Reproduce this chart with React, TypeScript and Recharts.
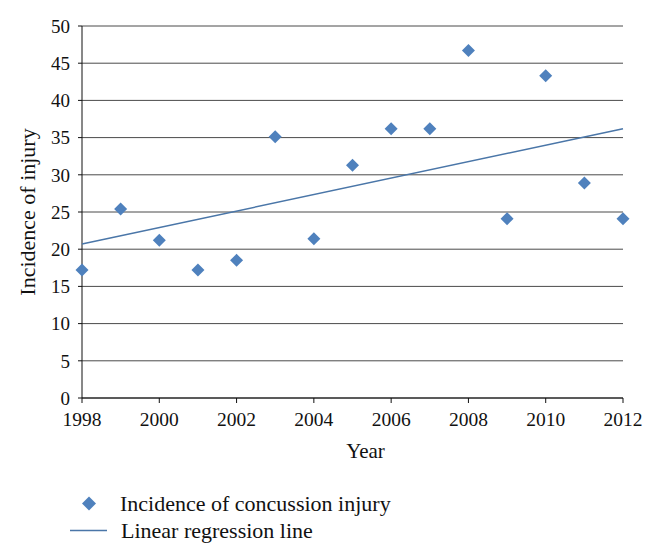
import React from "react";
import {
  ScatterChart,
  Scatter,
  XAxis,
  YAxis,
  CartesianGrid,
  Legend,
} from "recharts";

const years = [1998, 1999, 2000, 2001, 2002, 2003, 2004, 2005, 2006, 2007, 2008, 2009, 2010, 2011, 2012];
const incidence = [17.2, 25.4, 21.2, 17.2, 18.5, 35.1, 21.4, 31.3, 36.2, 36.2, 46.7, 24.1, 43.3, 28.9, 24.1];
const regressionYears = [1998, 2012];
const regressionValues = [20.7, 36.2];
const xTicks = [1998, 2000, 2002, 2004, 2006, 2008, 2010, 2012];
const yTicks = [0, 5, 10, 15, 20, 25, 30, 35, 40, 45, 50];

const pointData = years.map((y, i) => ({ year: y, value: incidence[i] }));
const lineData = regressionYears.map((y, i) => ({ year: y, value: regressionValues[i] }));

const FONT = "'Liberation Serif', 'Times New Roman', serif";
const BLUE = "#4F81BD";
const LINE_BLUE = "#4A76A8";

const Diamond = (props: any) => {
  const { cx, cy } = props;
  if (cx == null || cy == null) return null;
  const r = 6.5;
  return (
    <polygon
      points={`${cx},${cy - r} ${cx + r},${cy} ${cx},${cy + r} ${cx - r},${cy}`}
      fill={BLUE}
    />
  );
};

const NoShape = () => null;

const LegendContent = () => (
  <div style={{ fontFamily: FONT, fontSize: 22, color: "#111", lineHeight: "27px" }}>
    <div style={{ display: "flex", alignItems: "center" }}>
      <svg width={50} height={27} style={{ flex: "none" }}>
        <polygon points="19,6.5 26,13.5 19,20.5 12,13.5" fill={BLUE} />
      </svg>
      <span style={{ whiteSpace: "nowrap" }}>Incidence of concussion injury</span>
    </div>
    <div style={{ display: "flex", alignItems: "center" }}>
      <svg width={51} height={27} style={{ flex: "none" }}>
        <line x1={0} y1={13.5} x2={37} y2={13.5} stroke={LINE_BLUE} strokeWidth={1.5} />
      </svg>
      <span style={{ whiteSpace: "nowrap" }}>Linear regression line</span>
    </div>
  </div>
);

export default function App() {
  return (
    <div style={{ position: "absolute", left: 0, top: 0, width: 656, height: 557, background: "#fff" }}>
      <ScatterChart
        width={656}
        height={557}
        margin={{ top: 26, right: 33, bottom: 99, left: 0 }}
      >
        <CartesianGrid vertical={false} stroke="#4a4a4a" strokeWidth={1} />
        <XAxis
          type="number"
          dataKey="year"
          domain={[1998, 2012]}
          ticks={xTicks}
          height={60}
          tickSize={5}
          tickMargin={9}
          stroke="#111"
          tick={{ fill: "#111", fontFamily: FONT, fontSize: 19.5 }}
          tickLine={{ stroke: "#111" }}
          axisLine={{ stroke: "#111" }}
          label={{
            content: (p: any) => {
              const vb = p.viewBox;
              return (
                <text
                  x={vb.x + vb.width / 2 + 13}
                  y={458}
                  textAnchor="middle"
                  fontFamily={FONT}
                  fontSize={21}
                  fill="#111"
                >
                  Year
                </text>
              );
            },
          }}
        />
        <YAxis
          type="number"
          dataKey="value"
          domain={[0, 50]}
          ticks={yTicks}
          width={82}
          tickSize={4}
          tickMargin={8}
          stroke="#111"
          tick={{ fill: "#111", fontFamily: FONT, fontSize: 19 }}
          tickLine={{ stroke: "#111" }}
          axisLine={{ stroke: "#111" }}
          label={{
            content: (p: any) => {
              const vb = p.viewBox;
              const cy = vb.y + vb.height / 2;
              return (
                <text
                  x={27}
                  y={cy}
                  transform={`rotate(-90, 27, ${cy})`}
                  textAnchor="middle"
                  dominantBaseline="central"
                  fontFamily={FONT}
                  fontSize={22}
                  fill="#111"
                >
                  Incidence of injury
                </text>
              );
            },
          }}
        />
        <Legend
          layout="horizontal"
          verticalAlign="middle"
          align="center"
          content={<LegendContent />}
          wrapperStyle={{ left: 70, top: 490, bottom: "auto", width: 400, height: 60 }}
        />
        <Scatter
          name="Linear regression line"
          data={lineData}
          line={{ stroke: LINE_BLUE, strokeWidth: 1.5 }}
          shape={NoShape}
          isAnimationActive={false}
        />
        <Scatter
          name="Incidence of concussion injury"
          data={pointData}
          shape={Diamond}
          isAnimationActive={false}
        />
      </ScatterChart>
    </div>
  );
}
